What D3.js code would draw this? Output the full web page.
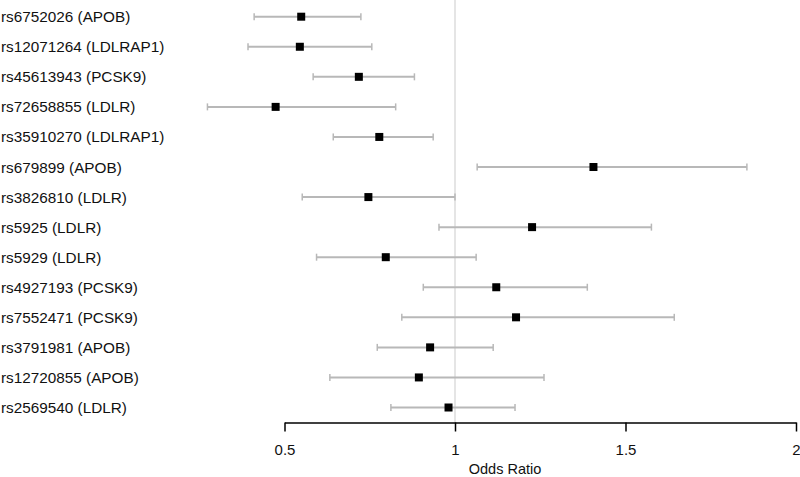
<!DOCTYPE html>
<html><head><meta charset="utf-8">
<script src="https://cdn.jsdelivr.net/npm/d3@7"></script>
<style>body{margin:0;background:#fff}svg{display:block}text{font-family:"Liberation Sans",Arial,sans-serif}</style>
</head><body><div id="chart"></div>
<script>
const labels = ["rs6752026 (APOB)","rs12071264 (LDLRAP1)","rs45613943 (PCSK9)","rs72658855 (LDLR)","rs35910270 (LDLRAP1)","rs679899 (APOB)","rs3826810 (LDLR)","rs5925 (LDLR)","rs5929 (LDLR)","rs4927193 (PCSK9)","rs7552471 (PCSK9)","rs3791981 (APOB)","rs12720855 (APOB)","rs2569540 (LDLR)"];
const oddsRatio = [0.549,0.545,0.718,0.474,0.778,1.406,0.746,1.226,0.797,1.121,1.179,0.927,0.894,0.981];
const lowerCI  = [0.411,0.393,0.584,0.274,0.643,1.065,0.552,0.953,0.594,0.907,0.844,0.772,0.633,0.812];
const upperCI  = [0.724,0.756,0.881,0.826,0.936,1.856,1.000,1.576,1.062,1.388,1.643,1.112,1.261,1.176];
const xTicks = [0.5,1,1.5,2];
const xTickLabels = ["0.5","1","1.5","2"];

const W=800,H=477;
const svg=d3.select("#chart").append("svg").attr("width",W).attr("height",H);
const x=d3.scaleLinear().domain([0.5,2]).range([284.5,796]);
const y=d3.scalePoint().domain(labels).range([16.7,407.5]);
const axisY=422.5;

svg.append("line").attr("x1",x(1)).attr("x2",x(1)).attr("y1",0).attr("y2",axisY)
  .attr("stroke","#dcdcdc").attr("stroke-width",1.5);

const data=labels.map((l,i)=>({l,or:oddsRatio[i],lo:lowerCI[i],hi:upperCI[i]}));
const g=svg.append("g");
g.selectAll("line.ci").data(data).join("line").attr("class","ci")
  .attr("x1",d=>x(d.lo)).attr("x2",d=>x(d.hi)).attr("y1",d=>y(d.l)).attr("y2",d=>y(d.l))
  .attr("stroke","#b8b8b8").attr("stroke-width",2);
["lo","hi"].forEach(k=>{
  g.selectAll("line.cap"+k).data(data).join("line").attr("class","cap"+k)
    .attr("x1",d=>x(d[k])).attr("x2",d=>x(d[k])).attr("y1",d=>y(d.l)-3.5).attr("y2",d=>y(d.l)+3.5)
    .attr("stroke","#b8b8b8").attr("stroke-width",1.5);
});
g.selectAll("rect").data(data).join("rect")
  .attr("x",d=>x(d.or)-4).attr("y",d=>y(d.l)-4).attr("width",8).attr("height",8).attr("fill","#000");

svg.selectAll("text.lab").data(labels).join("text").attr("class","lab")
  .attr("x",1).attr("y",d=>y(d)).attr("dy","0.36em").attr("font-size",15.3).attr("fill","#111").text(d=>d);

const ax=svg.append("g").attr("transform",`translate(0,${axisY})`)
  .call(d3.axisBottom(x).tickValues(xTicks).tickFormat((d,i)=>xTickLabels[i]).tickSize(9).tickSizeOuter(0));
ax.select(".domain").attr("stroke","#000").attr("stroke-width",1.5);
ax.selectAll(".tick line").attr("stroke","#000").attr("stroke-width",1.5);
ax.selectAll(".tick text").attr("font-size",15).attr("fill","#111").attr("y",22).attr("font-family","Liberation Sans, Arial, sans-serif");

svg.append("text").attr("x",505).attr("y",474).attr("text-anchor","middle").attr("font-size",14.5).attr("fill","#111").text("Odds Ratio");
</script></body></html>
